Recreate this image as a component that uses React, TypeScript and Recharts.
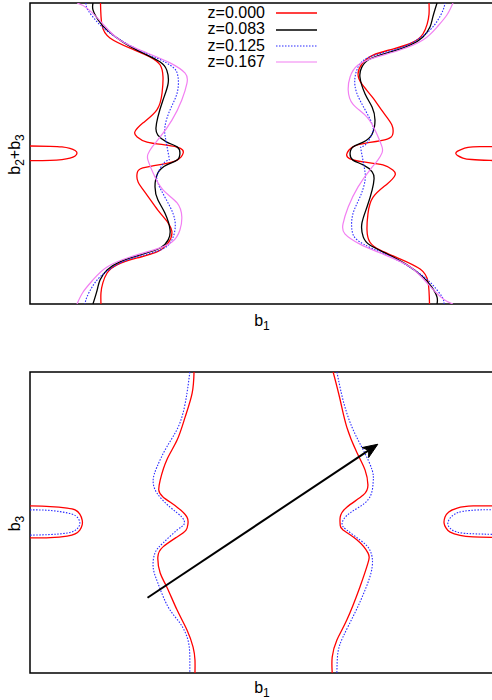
import { LineChart, Line, XAxis, YAxis, ReferenceArea, ReferenceLine, Legend } from "recharts";

type Pt = [number, number];

const FONT = '"Liberation Sans", Arial, Helvetica, sans-serif';

// ---- panel 1 : b1 vs b2+b3 for four z cuts (left sheet, right sheet, pockets)
const z000L: Pt[] = [[-0.35,0.5],[-0.347,0.427],[-0.33,0.384],[-0.287,0.35],[-0.245,0.321],[-0.223,0.294],[-0.217,0.254],[-0.219,0.201],[-0.23,0.145],[-0.26,0.101],[-0.277,0.071],[-0.272,0.055],[-0.251,0.038],[-0.209,0.028],[-0.181,0.018],[-0.174,0.002],[-0.187,-0.022],[-0.217,-0.035],[-0.26,-0.048],[-0.272,-0.065],[-0.27,-0.095],[-0.251,-0.138],[-0.228,-0.188],[-0.206,-0.231],[-0.198,-0.264],[-0.206,-0.297],[-0.23,-0.327],[-0.272,-0.347],[-0.315,-0.37],[-0.336,-0.397],[-0.345,-0.43],[-0.349,-0.463],[-0.349,-0.5]];
const z000R: Pt[] = [[0.35,-0.5],[0.347,-0.427],[0.33,-0.384],[0.287,-0.35],[0.245,-0.321],[0.223,-0.294],[0.217,-0.254],[0.219,-0.201],[0.23,-0.145],[0.26,-0.101],[0.277,-0.071],[0.272,-0.055],[0.251,-0.038],[0.209,-0.028],[0.181,-0.018],[0.174,-0.002],[0.187,0.022],[0.217,0.035],[0.26,0.048],[0.272,0.065],[0.27,0.095],[0.251,0.138],[0.228,0.188],[0.206,0.231],[0.198,0.264],[0.206,0.297],[0.23,0.327],[0.272,0.347],[0.315,0.37],[0.336,0.397],[0.345,0.43],[0.349,0.463],[0.349,0.5]];
const z000PocketL: Pt[] = [[-0.5,0.025],[-0.457,0.024],[-0.432,0.022],[-0.415,0.017],[-0.404,0.01],[-0.4,0.002],[-0.404,-0.008],[-0.415,-0.015],[-0.432,-0.02],[-0.457,-0.023],[-0.5,-0.024]];
const z000PocketR: Pt[] = [[0.5,0.023],[0.457,0.023],[0.432,0.02],[0.417,0.013],[0.409,0.007],[0.406,0],[0.411,-0.008],[0.421,-0.015],[0.44,-0.02],[0.479,-0.023],[0.5,-0.024]];

const z083L: Pt[] = [[-0.366,0.5],[-0.366,0.477],[-0.355,0.444],[-0.336,0.41],[-0.302,0.37],[-0.26,0.334],[-0.223,0.304],[-0.209,0.277],[-0.206,0.234],[-0.217,0.178],[-0.228,0.121],[-0.232,0.085],[-0.228,0.061],[-0.209,0.038],[-0.187,0.022],[-0.181,0.002],[-0.187,-0.022],[-0.209,-0.038],[-0.228,-0.065],[-0.234,-0.111],[-0.228,-0.154],[-0.213,-0.198],[-0.202,-0.254],[-0.206,-0.287],[-0.223,-0.314],[-0.266,-0.337],[-0.309,-0.36],[-0.336,-0.387],[-0.351,-0.42],[-0.357,-0.453],[-0.366,-0.5]];
const z083R: Pt[] = [[0.366,-0.5],[0.366,-0.477],[0.355,-0.444],[0.336,-0.41],[0.302,-0.37],[0.26,-0.334],[0.223,-0.304],[0.209,-0.277],[0.206,-0.234],[0.217,-0.178],[0.228,-0.121],[0.232,-0.085],[0.228,-0.061],[0.209,-0.038],[0.187,-0.022],[0.181,-0.002],[0.187,0.022],[0.209,0.038],[0.228,0.065],[0.234,0.111],[0.228,0.154],[0.213,0.198],[0.202,0.254],[0.206,0.287],[0.223,0.314],[0.266,0.337],[0.309,0.36],[0.336,0.387],[0.351,0.42],[0.357,0.453],[0.366,0.5]];

const z125L: Pt[] = [[-0.381,0.5],[-0.377,0.477],[-0.357,0.437],[-0.33,0.4],[-0.281,0.354],[-0.23,0.317],[-0.196,0.287],[-0.185,0.254],[-0.187,0.201],[-0.202,0.145],[-0.213,0.088],[-0.211,0.045],[-0.206,0.002],[-0.204,-0.022],[-0.213,-0.028],[-0.228,-0.065],[-0.228,-0.098],[-0.213,-0.145],[-0.196,-0.198],[-0.191,-0.244],[-0.198,-0.287],[-0.223,-0.321],[-0.281,-0.347],[-0.323,-0.377],[-0.351,-0.41],[-0.368,-0.444],[-0.379,-0.477],[-0.383,-0.5]];
const z125R: Pt[] = [[0.381,-0.5],[0.377,-0.477],[0.357,-0.437],[0.33,-0.4],[0.281,-0.354],[0.23,-0.317],[0.196,-0.287],[0.185,-0.254],[0.187,-0.201],[0.202,-0.145],[0.213,-0.088],[0.211,-0.045],[0.206,-0.002],[0.204,0.022],[0.213,0.028],[0.228,0.065],[0.228,0.098],[0.213,0.145],[0.196,0.198],[0.191,0.244],[0.198,0.287],[0.223,0.321],[0.281,0.347],[0.323,0.377],[0.351,0.41],[0.368,0.444],[0.379,0.477],[0.383,0.5]];

const z167L: Pt[] = [[-0.4,0.5],[-0.379,0.483],[-0.347,0.434],[-0.309,0.377],[-0.251,0.334],[-0.202,0.301],[-0.17,0.267],[-0.166,0.234],[-0.177,0.178],[-0.198,0.111],[-0.223,0.055],[-0.24,0.022],[-0.249,-0.002],[-0.249,-0.022],[-0.238,-0.065],[-0.217,-0.121],[-0.187,-0.164],[-0.177,-0.211],[-0.181,-0.254],[-0.198,-0.294],[-0.238,-0.321],[-0.287,-0.344],[-0.336,-0.377],[-0.366,-0.42],[-0.387,-0.46],[-0.4,-0.5]];
const z167R: Pt[] = [[0.4,-0.5],[0.379,-0.483],[0.347,-0.434],[0.309,-0.377],[0.251,-0.334],[0.202,-0.301],[0.17,-0.267],[0.166,-0.234],[0.177,-0.178],[0.198,-0.111],[0.223,-0.055],[0.24,-0.022],[0.249,0.002],[0.249,0.022],[0.238,0.065],[0.217,0.121],[0.187,0.164],[0.177,0.211],[0.181,0.254],[0.198,0.294],[0.238,0.321],[0.287,0.344],[0.336,0.377],[0.366,0.42],[0.387,0.46],[0.4,0.5]];

// ---- panel 2 : b1 vs b3
const b3RedL: Pt[] = [[-0.151,0.5],[-0.155,0.43],[-0.17,0.35],[-0.187,0.274],[-0.209,0.208],[-0.223,0.141],[-0.226,0.108],[-0.217,0.085],[-0.187,0.051],[-0.166,0.018],[-0.164,-0.005],[-0.168,-0.025],[-0.187,-0.048],[-0.217,-0.081],[-0.228,-0.115],[-0.223,-0.168],[-0.209,-0.214],[-0.187,-0.291],[-0.166,-0.357],[-0.153,-0.414],[-0.149,-0.457],[-0.149,-0.5]];
const b3RedR: Pt[] = [[0.145,0.5],[0.16,0.407],[0.174,0.317],[0.196,0.231],[0.213,0.174],[0.219,0.125],[0.209,0.091],[0.174,0.051],[0.16,0.018],[0.16,-0.008],[0.166,-0.025],[0.196,-0.058],[0.219,-0.101],[0.219,-0.135],[0.202,-0.214],[0.174,-0.324],[0.153,-0.39],[0.143,-0.447],[0.143,-0.5]];
const b3RedPocketL: Pt[] = [[-0.5,0.055],[-0.457,0.053],[-0.421,0.048],[-0.404,0.042],[-0.394,0.028],[-0.389,0.008],[-0.389,-0.008],[-0.394,-0.025],[-0.404,-0.038],[-0.421,-0.045],[-0.457,-0.05],[-0.5,-0.051]];
const b3RedPocketR: Pt[] = [[0.5,0.055],[0.443,0.055],[0.409,0.048],[0.391,0.035],[0.383,0.018],[0.381,-0.002],[0.385,-0.018],[0.394,-0.032],[0.415,-0.043],[0.443,-0.048],[0.5,-0.05]];

const b3BlueL: Pt[] = [[-0.16,0.5],[-0.166,0.43],[-0.181,0.331],[-0.209,0.251],[-0.23,0.184],[-0.238,0.141],[-0.23,0.098],[-0.202,0.051],[-0.177,0.018],[-0.172,-0.005],[-0.187,-0.025],[-0.217,-0.068],[-0.234,-0.101],[-0.238,-0.148],[-0.228,-0.201],[-0.206,-0.281],[-0.181,-0.334],[-0.164,-0.39],[-0.16,-0.447],[-0.16,-0.5]];
const b3BlueR: Pt[] = [[0.153,0.5],[0.166,0.407],[0.185,0.317],[0.209,0.241],[0.228,0.174],[0.23,0.131],[0.219,0.075],[0.181,0.032],[0.164,-0.002],[0.174,-0.025],[0.202,-0.058],[0.223,-0.091],[0.228,-0.148],[0.213,-0.224],[0.191,-0.301],[0.166,-0.38],[0.155,-0.434],[0.153,-0.5]];
const b3BluePocketL: Pt[] = [[-0.5,0.042],[-0.457,0.04],[-0.421,0.032],[-0.406,0.025],[-0.398,0.015],[-0.394,-0.002],[-0.398,-0.018],[-0.406,-0.028],[-0.421,-0.035],[-0.457,-0.04],[-0.5,-0.042]];
const b3BluePocketR: Pt[] = [[0.5,0.042],[0.457,0.042],[0.421,0.037],[0.404,0.028],[0.394,0.015],[0.389,-0.005],[0.396,-0.022],[0.409,-0.032],[0.436,-0.037],[0.5,-0.04]];

const arrowFrom = { x: -0.25, y: -0.25 };
const arrowTo = { x: 0.24, y: 0.26 };

const zLabels = ["z=0.000", "z=0.083", "z=0.125", "z=0.167"];

const RED = { stroke: "#ff0000", width: 1.3, dash: undefined as string | undefined };
const BLACK = { stroke: "#000000", width: 1.3, dash: undefined as string | undefined };
const BLUE = { stroke: "#2a2aff", width: 1.1, dash: "1.5 1.5" };
const PINK = { stroke: "#f27ff2", width: 1.2, dash: undefined as string | undefined };
const styles = [RED, BLACK, BLUE, PINK];

const panel1 = [
  { style: RED, curves: [z000L, z000R, z000PocketL, z000PocketR] },
  { style: BLACK, curves: [z083L, z083R] },
  { style: BLUE, curves: [z125L, z125R] },
  { style: PINK, curves: [z167L, z167R] },
];
const panel2 = [
  { style: RED, curves: [b3RedL, b3RedR, b3RedPocketL, b3RedPocketR] },
  { style: BLUE, curves: [b3BlueL, b3BlueR, b3BluePocketL, b3BluePocketR] },
];

const rows = (pts: Pt[]) => pts.map(([x, y]) => ({ x, y }));

const XLabel = (dy: number) => (props: any) => {
  const { x, y, width } = props.viewBox;
  return (
    <text x={x + width / 2 - 3} y={y + dy} textAnchor="middle" fontSize={16} fontFamily={FONT} fill="#000">
      b<tspan dy={4} fontSize={12}>1</tspan>
    </text>
  );
};

const YLabel = (sum: boolean) => (props: any) => {
  const { x, y, height } = props.viewBox;
  const cx = x + 20;
  const cy = y + height / 2 + 1;
  return (
    <text x={cx} y={cy} transform={`rotate(-90 ${cx} ${cy})`} textAnchor="middle" fontSize={16} fontFamily={FONT} fill="#000">
      {sum ? (
        <>
          b<tspan dy={4} fontSize={12}>2</tspan>
          <tspan dy={-4}>+b</tspan>
          <tspan dy={4} fontSize={12}>3</tspan>
        </>
      ) : (
        <>
          b<tspan dy={4} fontSize={12}>3</tspan>
        </>
      )}
    </text>
  );
};

const Arrow = (p: any) => {
  const { x1, y1, x2, y2 } = p;
  const a = Math.atan2(y2 - y1, x2 - x1);
  const c = Math.cos(a), s = Math.sin(a);
  const L = 15, H = 6, N = 11;
  const back = { x: x2 - L * c, y: y2 - L * s };
  const notch = { x: x2 - N * c, y: y2 - N * s };
  const pts = [
    [x2, y2],
    [back.x - H * s, back.y + H * c],
    [notch.x, notch.y],
    [back.x + H * s, back.y - H * c],
  ].map(q => q.join(",")).join(" ");
  return (
    <g>
      <line x1={x1} y1={y1} x2={notch.x} y2={notch.y} stroke="#000" strokeWidth={2} />
      <polygon points={pts} fill="#000" stroke="#000" strokeWidth={1} />
    </g>
  );
};

const KeyBox = () => (
  <div style={{ fontFamily: FONT, fontSize: 16, color: "#000" }}>
    {zLabels.map((label, i) => (
      <div key={label} style={{ display: "flex", alignItems: "center", height: 16.4, lineHeight: "16.4px" }}>
        <span style={{ width: 75, textAlign: "right" }}>{label}</span>
        <svg width={41} height={16} style={{ marginLeft: 11 }}>
          <line x1={0} y1={8} x2={41} y2={8} stroke={styles[i].stroke} strokeWidth={styles[i].width} strokeDasharray={styles[i].dash} />
        </svg>
      </div>
    ))}
  </div>
);

function Panel({ groups, sumLabel, xdy, arrow, legend }: { groups: typeof panel1; sumLabel: boolean; xdy: number; arrow?: boolean; legend?: boolean }) {
  return (
    <LineChart width={510} height={340} margin={{ top: 3, right: 10, bottom: 0, left: 0 }}>
      <XAxis dataKey="x" type="number" domain={[-0.5, 0.5]} allowDataOverflow tick={false} tickLine={false} axisLine={false} height={36} label={XLabel(xdy)} />
      <YAxis dataKey="y" type="number" domain={[-0.5, 0.5]} allowDataOverflow tick={false} tickLine={false} axisLine={false} width={30} label={YLabel(sumLabel)} />
      <ReferenceArea x1={-0.5} x2={0.5} y1={-0.5} y2={0.5} fill="none" fillOpacity={0} stroke="#000" strokeWidth={1.5} />
      {groups.flatMap((g, gi) =>
        g.curves.map((c, ci) => (
          <Line
            key={`${gi}-${ci}`}
            data={rows(c)}
            dataKey="y"
            type="natural"
            stroke={g.style.stroke}
            strokeWidth={g.style.width}
            strokeDasharray={g.style.dash}
            dot={false}
            activeDot={false}
            isAnimationActive={false}
          />
        ))
      )}
      {arrow && <ReferenceLine segment={[arrowFrom, arrowTo]} shape={Arrow} />}
      {legend && (
        <Legend layout="vertical" align="center" verticalAlign="middle" content={() => <KeyBox />} wrapperStyle={{ left: 190, top: 5, width: 140 }} />
      )}
    </LineChart>
  );
}

export default function App() {
  return (
    <div style={{ position: "absolute", left: 0, top: 0, width: 492, height: 700, overflow: "hidden", background: "#fff" }}>
      <div style={{ position: "absolute", left: 0, top: 0 }}>
        <Panel groups={panel1} sumLabel xdy={22} legend />
      </div>
      <div style={{ position: "absolute", left: 0, top: 369 }}>
        <Panel groups={panel2} sumLabel={false} xdy={20} arrow />
      </div>
    </div>
  );
}
